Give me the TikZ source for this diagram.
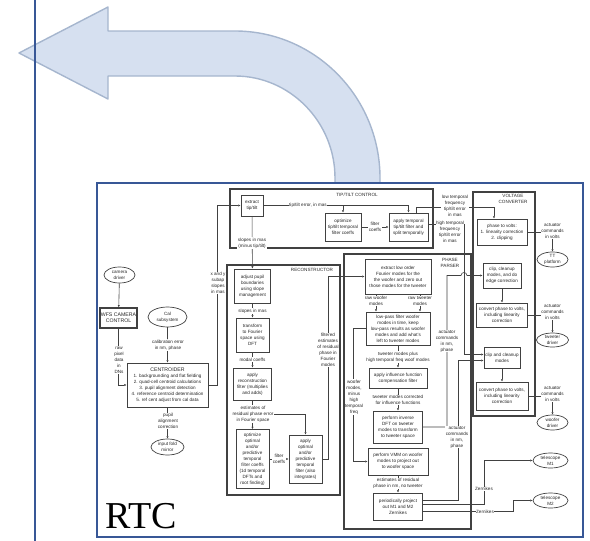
\documentclass[tikz,border=0pt]{standalone}
\usepackage{fontspec}
\setsansfont{Liberation Sans}
\newfontfamily\rtcfont{Liberation Serif}
\usetikzlibrary{positioning}
\usetikzlibrary{shapes.geometric}
\usetikzlibrary{arrows.meta}
\definecolor{slideblue}{RGB}{56,87,150}
\definecolor{arrowfill}{RGB}{214,224,240}
\definecolor{arrowline}{RGB}{166,182,206}
\definecolor{ink}{RGB}{65,65,65}
\newcommand\diagtext{\sffamily\fontsize{4.6}{6}\selectfont}
\tikzset{
    every node/.append style={
        font=\diagtext,
        text=black!85
    },
    blk/.style={
        draw=ink,
        line width=0.7pt,
        align=center,
        inner sep=0.5pt
    },
    ovl/.style={
        draw=ink,
        ellipse,
        line width=0.7pt,
        align=center,
        inner sep=0pt
    },
    lbl/.style={
        fill=white,
        align=center,
        inner sep=0.5pt
    },
    grp/.style={
        draw=ink,
        line width=1.1pt
    },
    ttl/.style={
        align=center,
        inner sep=0pt
    },
    flow/.style={
        draw=ink,
        line width=0.6pt,
        -{Latex[length=2.4pt,width=2.2pt]}
    }
}

\begin{document}
\begin{tikzpicture}[x=1pt, y=-1pt]
                \useasboundingbox (0,0) rectangle (590,541);

                \draw[arrowline, fill=arrowfill, line width=1.4pt, line join=round]
                    (19,53) -- (108,7) -- (108,31) -- (235,31)
                    .. controls (315,31) and (380,97) .. (380,178) -- (380,183)
                    -- (335,183) -- (335,178)
                    .. controls (335,122) and (290,76) .. (235,76)
                    -- (108,76) -- (108,99) -- cycle;

                \draw[slideblue, line width=2pt] (35,0) -- (35,541);
                \draw[slideblue, line width=2pt] (97,183) rectangle (583,537);
                \node[font=\rtcfont\fontsize{38}{40}\selectfont, text=black, anchor=base west, inner sep=0pt] (rtc) at (105,528) {RTC};

                \draw[grp] (230,189) rectangle (433,248);
                \draw[grp] (227,265) rectangle (340,495);
                \draw[grp] (344,254) rectangle (471,529);
                \draw[grp] (473,192) rectangle (535,416);
                \node[ttl] (tttitle) at (357,195) {TIP/TILT CONTROL};
                \node[ttl] (rectitle) at (312,270) {RECONSTRUCTOR};
                \node[ttl] (pptitle) at (450,263) {PHASE\\PARSER};
                \node[ttl] (vctitle) at (513,199) {VOLTAGE\\CONVERTER};

                \node[ovl, minimum width=31pt, minimum height=16pt] (camdrv) at (119.5,275) {camera\\driver};
                \node[blk, line width=1.1pt, minimum width=37pt, minimum height=20pt, font=\sffamily\fontsize{5.2}{6.4}\selectfont] (wfs) at (118.5,318) {WFS CAMERA\\CONTROL};
                \node[ovl, minimum width=39pt, minimum height=20pt] (calsub) at (167.5,317) {Cal\\subsystem};
                \node[blk, minimum width=81pt, minimum height=44pt] (cent) at (167.5,385) {{\fontsize{5.2}{6.4}\selectfont CENTROIDER}\\1. backgrounding and flat fielding\\2. quad-cell centroid calculations\\3. pupil alignment detection\\4. reference centroid determination\\5. ref cent adjust from cal data};
                \node[ovl, minimum width=33pt, minimum height=16pt] (fold) at (167.5,447) {input fold\\mirror};

                \node[blk, minimum width=22pt, minimum height=21pt] (extTT) at (252,205.5) {extract\\tip/tilt};
                \node[blk, minimum width=36pt, minimum height=28pt] (optTT) at (343,227) {optimize\\tip/tilt temporal\\filter coeffs};
                \node[blk, minimum width=39pt, minimum height=28pt] (appTT) at (408.5,227) {apply temporal\\tip/tilt filter and\\split temporally};

                \node[blk, minimum width=36pt, minimum height=34pt] (pupil) at (252.5,286) {adjust pupil\\boundaries\\using slope\\management};
                \node[blk, minimum width=33pt, minimum height=34pt] (fourier) at (252.5,335) {transform\\to Fourier\\space using\\DFT};
                \node[blk, minimum width=38pt, minimum height=32pt] (recfilt) at (252.5,384) {apply\\reconstruction\\filter (multiplies\\and adds)};
                \node[blk, minimum width=33pt, minimum height=59pt] (optfilt) at (252.5,459) {optimize\\optimal\\and/or\\predictive\\temporal\\filter coeffs\\(1d temporal\\DFTs and\\root finding)};
                \node[blk, minimum width=33pt, minimum height=48pt] (appfilt) at (305.5,459) {apply\\optimal\\and/or\\predictive\\temporal\\filter (also\\integrates)};

                \node[blk, minimum width=66pt, minimum height=35pt] (extlo) at (398,276.5) {extract low order\\Fourier modes for the\\the woofer and zero out\\those modes for the tweeter};
                \node[blk, minimum width=64pt, minimum height=33pt] (lowpass) at (398,328.5) {low-pass filter woofer\\modes in time, keep\\low-pass results as woofer\\modes and add what's\\left to tweeter modes};
                \node[blk, minimum width=58pt, minimum height=20pt] (infl) at (398,378) {apply influence function\\compensation filter};
                \node[blk, minimum width=49pt, minimum height=32pt] (invdft) at (398,427) {perform inverse\\DFT on tweeter\\modes to transform\\to tweeter space};
                \node[blk, minimum width=60pt, minimum height=27pt] (vmm) at (398,461.5) {perform VMM on woofer\\modes to project out\\to woofer space};
                \node[blk, minimum width=49pt, minimum height=27pt] (perio) at (398,506.5) {periodically project\\out M1 and M2\\Zernikes};

                \node[blk, minimum width=50pt, minimum height=26pt] (p2v) at (502,232) {phase to volts:\\1. linearity correction\\2. clipping};
                \node[blk, minimum width=38pt, minimum height=25pt] (clipedge) at (502,275.5) {clip, cleanup\\modes, and do\\edge correction};
                \node[blk, minimum width=51pt, minimum height=24pt] (conv1) at (502,315) {convert phase to volts,\\including linearity\\correction};
                \node[blk, minimum width=36pt, minimum height=21pt] (clipmodes) at (502,357.5) {clip and cleanup\\modes};
                \node[blk, minimum width=52pt, minimum height=28pt] (conv2) at (502,396) {convert phase to volts,\\including linearity\\correction};

                \node[ovl, minimum width=31pt, minimum height=15pt] (ttplat) at (552.5,259.5) {TT\\platform};
                \node[ovl, minimum width=32pt, minimum height=14pt] (twdrv) at (552.5,340) {tweeter\\driver};
                \node[ovl, minimum width=31pt, minimum height=15pt] (wfdrv) at (552.5,422.5) {woofer\\driver};
                \node[ovl, minimum width=35pt, minimum height=15pt] (tm1) at (550.5,460.5) {telescope\\M1};
                \node[ovl, minimum width=35pt, minimum height=15pt] (tm2) at (550.5,500.5) {telescope\\M2};

                \draw[flow] (camdrv) -- (wfs);
                \draw[flow] (wfs.south) |- (cent.west);
                \draw[flow] (calsub) -- (cent);
                \draw[flow] (cent) -- (fold);
                \draw[flow] (cent.east) -- ++(9,0) |- (extTT.west);

                \draw[flow] (extTT.east) -| (appTT.north);
                \draw[flow] (optTT.north |- extTT.east) -- (optTT.north);
                \draw[flow] (optTT) -- (appTT);
                \draw[flow] (extTT) -- (pupil);
                \draw[flow] ([xshift=8pt]appTT.north) -- ++(0,-5) -| ([xshift=-8pt]p2v.north);
                \draw[flow] ([yshift=3pt]appTT.east) -- ++(36,0) |- ([yshift=3pt]clipmodes.west);

                \draw[flow] (pupil) -- (fourier);
                \draw[flow] (fourier) -- (recfilt);
                \draw[flow] (recfilt) -- (optfilt);
                \draw[flow] (optfilt) -- (appfilt);
                \draw[flow] (appfilt.east) -- ++(6,0) |- (extlo.west);

                \draw[flow] ([xshift=-22pt]extlo.south) -- ([xshift=-22pt]lowpass.north);
                \draw[flow] ([xshift=22pt]extlo.south) -- ([xshift=22pt]lowpass.north);
                \draw[flow] (lowpass) -- (infl);
                \draw[flow] (infl) -- (invdft);
                \draw[flow] (lowpass.west) -- ++(-12,0) |- (vmm.west);
                \draw[flow] (vmm) -- (perio);
                \draw[flow] (invdft.east) -| (447,300) |- (461,275.5) .. controls (461,271.5) and (467,271.5) .. (467,275.5) -- (clipedge.west);
                \draw[flow] ([yshift=6pt]perio.east) -- ++(35,0) |- ([yshift=-3pt]clipmodes.west);
                \draw[flow] ([yshift=2pt]perio.east) -- ++(61,0) |- (tm1.west);
                \draw[flow] ([yshift=-5pt]perio.east) -- ++(90,0) |- (tm2.west);

                \draw[flow] (clipedge) -- (conv1);
                \draw[flow] (clipmodes) -- (conv2);
                \draw[flow] (p2v.east) -| (ttplat.north);
                \draw[flow] (conv1.east) -| (twdrv.north);
                \draw[flow] (conv2.east) -| (wfdrv.north);

                \node[lbl] (lraw) at (119,360) {raw\\pixel\\data\\in\\DNs};
                \node[lbl] (lcal) at (168,345) {calibration error\\in nm, phase};
                \node[lbl] (lpupil) at (168,421) {pupil\\alignment\\correction};
                \node[lbl] (lsubap) at (218,283) {x and y\\subap\\slopes\\in mas};
                \node[lbl] (ltterr) at (308,205.5) {tip/tilt error, in mas};
                \node[lbl] (lttcoef) at (375,227) {filter\\coeffs};
                \node[lbl] (lslopes) at (252,243) {slopes in mas\\(minus tip/tilt)};
                \node[lbl] (lslopes2) at (252.5,311) {slopes in mas};
                \node[lbl] (lmodal) at (252.5,359.5) {modal coeffs};
                \node[lbl] (lest) at (253,414) {estimates of\\residual phase error\\in Fourier space};
                \node[lbl] (lcoef) at (279,459) {filter\\coeffs};
                \node[lbl] (lfilt) at (328,350) {filtered\\estimates\\of residual\\phase in\\Fourier\\modes};
                \node[lbl] (lrawwf) at (376,301) {raw woofer\\modes};
                \node[lbl] (lrawtw) at (420,301) {raw tweeter\\modes};
                \node[lbl] (ltwplus) at (398,357) {tweeter modes plus\\high temporal freq woof modes};
                \node[lbl] (ltwcorr) at (398,400) {tweeter modes corrected\\for influence functions};
                \node[lbl] (lwfmin) at (354,397) {woofer\\modes,\\minus\\high\\temporal\\freq};
                \node[lbl] (lresid) at (398,483.5) {estimates of residual\\phase in nm, no tweeter};
                \node[lbl] (lnm1) at (447,341) {actuator\\commands\\in nm,\\phase};
                \node[lbl] (lnm2) at (457,437) {actuator\\commands\\in nm,\\phase};
                \node[lbl] (llow) at (455,206) {low temporal\\frequency\\tip/tilt error\\in mas};
                \node[lbl] (lhigh) at (450,232) {high temporal\\frequency\\tip/tilt error\\in mas};
                \node[lbl] (lvolt1) at (552.5,231) {actuator\\commands\\in volts};
                \node[lbl] (lvolt2) at (552.5,312) {actuator\\commands\\in volts};
                \node[lbl] (lvolt3) at (552.5,394) {actuator\\commands\\in volts};
                \node[lbl] (lzern1) at (484,489) {Zernikes};
                \node[lbl] (lzern2) at (485,511.5) {Zernikes};

                \draw[flow] (lest.east) -| (appfilt.north);
            \end{tikzpicture}
\end{document}
